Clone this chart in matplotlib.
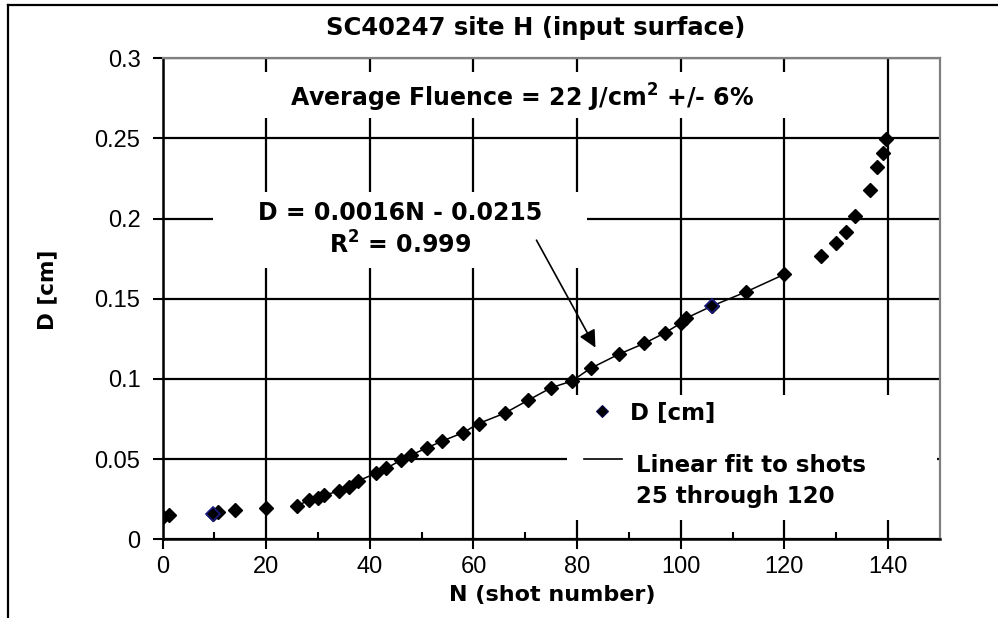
import numpy as np
import matplotlib
matplotlib.use("Agg")
import matplotlib.pyplot as plt
from matplotlib.lines import Line2D
from matplotlib.patches import Rectangle

# shot number and crater diameter
N = [0, 1.3, 9.8, 10.7, 14, 20, 26, 28.2, 30, 31.2, 34.1, 36, 37.8, 41.1, 43.2,
     46, 48, 51, 54, 58, 61, 66, 70.6, 75, 79, 82.6, 88, 93, 97, 100, 101,
     106, 112.7, 120, 127, 130, 132, 133.6, 136.5, 137.8, 139.1, 139.7]
D = [0.0141, 0.0151, 0.0158, 0.0172, 0.0183, 0.0197, 0.0208, 0.0245, 0.0256,
     0.0276, 0.0301, 0.0328, 0.0365, 0.0411, 0.0443, 0.0494, 0.0526, 0.0570,
     0.0613, 0.0665, 0.0722, 0.0786, 0.0868, 0.0945, 0.0987, 0.1066, 0.1153,
     0.1222, 0.1288, 0.1347, 0.1378, 0.1454, 0.1544, 0.1652, 0.1764, 0.1845,
     0.1918, 0.2016, 0.2178, 0.2323, 0.2410, 0.2494]
fit_start, fit_end = 25, 120
blue_pts = [2, 31]  # two markers drawn in navy in the original

title = "SC40247 site H (input surface)"
fluence_txt = "Average Fluence = 22 J/cm$^{\\mathregular{2}}$ +/- 6%"
eq_txt = "D = 0.0016N - 0.0215\nR$^{\\mathregular{2}}$ = 0.999"
leg_labels = ["D [cm]", "Linear fit to shots\n25 through 120"]

N = np.array(N)
D = np.array(D)
in_fit = (N >= fit_start) & (N <= fit_end)

plt.rcParams["font.family"] = ["Liberation Sans", "DejaVu Sans"]
bold = dict(family="DejaVu Sans", fontweight="bold")

fig = plt.figure(figsize=(9.98, 6.18), dpi=100)
ax = fig.add_axes([0.163, 0.1273, 0.7786, 0.7787])

# outer frame of the scanned figure
fig.add_artist(Line2D([0.0083, 0.0083], [0, 0.992], color="black", lw=1.6))
fig.add_artist(Line2D([0.0083, 1.0], [0.992, 0.992], color="black", lw=1.6))

ax.plot(N[in_fit], D[in_fit], color="black", lw=1.1, zorder=4)
ax.plot(N, D, ls="none", marker="D", ms=7, color="black", zorder=5)
ax.plot(N[blue_pts], D[blue_pts], ls="none", marker="D", ms=7,
        mfc="black", mec="#1a1a80", mew=1.2, zorder=6)

ax.set_xlim(0, 150)
ax.set_ylim(0, 0.3)
ax.set_xticks(np.arange(0, 141, 20))
ax.set_xticks(np.arange(10, 150, 20), minor=True)
ax.set_yticks([0, 0.05, 0.1, 0.15, 0.2, 0.25, 0.3])
ax.set_yticklabels(["0", "0.05", "0.1", "0.15", "0.2", "0.25", "0.3"])
ax.tick_params(axis="both", which="major", labelsize=17, length=7,
               width=1.5, direction="out")
ax.tick_params(axis="y", which="major", pad=9)
ax.tick_params(axis="x", which="major", pad=5)
ax.tick_params(axis="x", which="minor", length=5, width=1.5, direction="in")
ax.grid(True, which="major", color="black", lw=1.6, zorder=1)
ax.set_axisbelow(True)

for s in ["left", "bottom"]:
    ax.spines[s].set_linewidth(1.8)
    ax.spines[s].set_color("black")
for s in ["top", "right"]:
    ax.spines[s].set_linewidth(1.6)
    ax.spines[s].set_color("#808080")

ax.set_xlabel("N (shot number)", fontsize=16, **bold)
ax.xaxis.set_label_coords(0.502, -0.095)
ax.set_ylabel("D [cm]", fontsize=15.5, **bold)
ax.yaxis.set_label_coords(-0.135, 0.518)
fig.text(0.537, 0.955, title, ha="center", va="center", fontsize=17.5, **bold)

# white blocks that hide the gridlines behind the text
for x0, y0, x1, y1 in [(0.119, 0.875, 0.82, 0.971),
                       (0.0647, 0.5637, 0.546, 0.7216),
                       (0.5204, 0.0401, 0.9968, 0.2998)]:
    ax.add_patch(Rectangle((x0, y0), x1 - x0, y1 - y0, transform=ax.transAxes,
                           facecolor="white", edgecolor="none", zorder=2))

ax.text(0.463, 0.918, fluence_txt, transform=ax.transAxes, ha="center",
        va="center", fontsize=17, zorder=3, **bold)
ax.text(0.305, 0.643, eq_txt, transform=ax.transAxes, ha="center",
        va="center", fontsize=17, linespacing=1.3, zorder=3, **bold)
ax.annotate("", xy=(83.8, 0.118), xytext=(71.9, 0.188),
            arrowprops=dict(arrowstyle="-|>", color="black", lw=1.2,
                            mutation_scale=26), zorder=3)

# legend keys, laid out like the original legend box
ax.plot([0.5654], [0.2666], transform=ax.transAxes, ls="none", marker="D",
        ms=6.5, mfc="black", mec="#0c0c50", mew=0.8, zorder=6)
ax.plot([0.5422, 0.5911], [0.1668, 0.1668], transform=ax.transAxes,
        color="black", lw=1.2, zorder=6)
ax.text(0.6008, 0.2625, leg_labels[0], transform=ax.transAxes, ha="left",
        va="center", fontsize=16.5, zorder=6, **bold)
ax.text(0.6092, 0.122, leg_labels[1], transform=ax.transAxes, ha="left",
        va="center", fontsize=16.5, linespacing=1.45, zorder=6, **bold)

fig.savefig("out.png", dpi=100)
